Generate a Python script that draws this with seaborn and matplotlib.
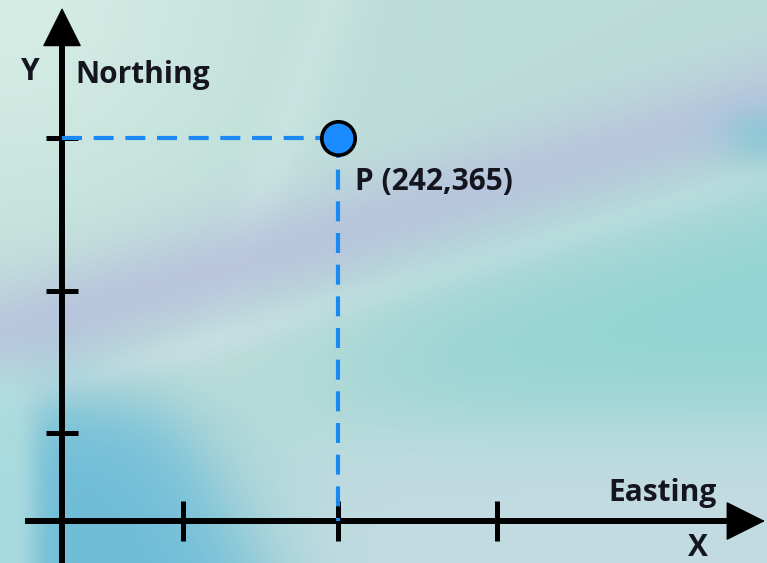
import numpy as np
import pandas as pd
import matplotlib.pyplot as plt
import matplotlib.colors as mcolors
import seaborn as sns

# Chart content
point_name = "P"
point_x = [242]
point_y = [365]
x_ticks = [106, 242, 381]
y_ticks = [84, 219, 365]
x_letter = "X"
y_letter = "Y"
x_title = "Easting"
y_title = "Northing"

df = pd.DataFrame({"easting": point_x, "northing": point_y})

sns.set_theme(style="white")
plt.rcParams['font.family'] = ['Open Sans', 'DejaVu Sans']

x_lim = (-54.4, 618.2)
y_lim = (-40.0, 496.5)

fig = plt.figure(figsize=(7.67, 5.63), dpi=100)
ax = fig.add_axes([0, 0, 1, 1])

# soft teal/lavender background, built in pixel space
W, H = 767, 563
gx, gy = np.meshgrid(np.linspace(0, W, 200), np.linspace(0, H, 150))


def blend(img, color, w):
    c = np.array(mcolors.to_rgb(color))
    w = np.clip(w, 0, 1)[..., None]
    return img * (1 - w) + c * w


def sig(t):
    return 1 / (1 + np.exp(-t))


img = np.ones(gx.shape + (3,)) * np.array(mcolors.to_rgb("#bcdcd8"))
img = blend(img, "#d4ece4", np.exp(-((gx / 260) ** 2 + (gy / 230) ** 2)))
img = blend(img, "#d0e8e4", 0.5 * np.exp(-((gx - 330 + 0.35 * gy) / 25) ** 2) * sig((300 - gy) / 30))
d = gy - (335 - 0.30 * gx)
img = blend(img, "#b8c2de", 0.85 * np.exp(-(d / 52) ** 2))
img = blend(img, "#cfe2e4", 0.6 * np.exp(-((d - 72) / 18) ** 2))
img = blend(img, "#92d4d4", sig((d - 95) / 30) * sig((gx - 330) / 60) * sig((440 - gy) / 35))
img = blend(img, "#c2dce2", sig((gy - 440) / 25) * sig((gx - 280) / 35))
edge = 255 - gx - 0.5 * (H - gy)
img = blend(img, "#6fbdd8", sig((gy - 400) / 22) * sig(edge / 30) * sig((gx - 25) / 10))
img = blend(img, "#a8dce0", sig((gy - 380) / 20) * sig((25 - gx) / 8))
img = blend(img, "#78c4d2", 0.6 * np.exp(-(((gx - 767) / 45) ** 2 + ((gy - 135) / 30) ** 2)))

ax.imshow(img, extent=(x_lim[0], x_lim[1], y_lim[0], y_lim[1]), origin="upper",
          aspect="auto", interpolation="bicubic", zorder=0)

# projection lines from the point to the axes
blue = "#1a8af2"
ax.plot([0, point_x[0]], [point_y[0], point_y[0]], color=blue, lw=3,
        dashes=(4.8, 2.8), zorder=3)
ax.plot([point_x[0], point_x[0]], [point_y[0], 0], color=blue, lw=3,
        dashes=(4.8, 2.8), zorder=3)

sns.scatterplot(data=df, x="easting", y="northing", ax=ax, s=580, color="#1a8cff",
                edgecolor="black", linewidth=2.6, zorder=4)

# axes drawn through the origin
ax.set_xlim(x_lim)
ax.set_ylim(y_lim)
ax.spines[['top', 'right']].set_visible(False)
for side in ['left', 'bottom']:
    ax.spines[side].set_position(('data', 0))
    ax.spines[side].set_linewidth(4.3)
    ax.spines[side].set_color("black")
ax.spines['left'].set_bounds(y_lim[0], 455)
ax.spines['bottom'].set_bounds(-30, 585)
ax.set_xticks(x_ticks)
ax.set_yticks(y_ticks)
ax.tick_params(axis='x', bottom=True, direction='inout', length=29, width=3.6,
               color='black', labelbottom=False)
ax.tick_params(axis='y', left=True, direction='inout', length=23, width=3.6,
               color='black', labelleft=False)
ax.set_xlabel("")
ax.set_ylabel("")

head = dict(arrowstyle="-|>,head_length=2.6,head_width=1.3", mutation_scale=10,
            color="black", lw=1, shrinkA=0, shrinkB=0)
ax.annotate("", xy=(0, 489), xytext=(0, 440), arrowprops=head)
ax.annotate("", xy=(616.4, 0), xytext=(570, 0), arrowprops=head)

txt = dict(fontsize=21.5, fontweight="bold", color="#15151f")
ax.text(-28, 428, y_letter, ha="center", va="center", **txt)
ax.text(11.4, 425, y_title, ha="left", va="center", **txt)
ax.text(574, 26.7, x_title, ha="right", va="center", **txt)
ax.text(557.6, -25.7, x_letter, ha="center", va="center", **txt)
ax.annotate(f"{point_name} ({point_x[0]},{point_y[0]})", xy=(point_x[0], point_y[0]),
            xytext=(12, -32), textcoords="offset points", ha="left", va="center",
            **txt)

fig.savefig("out.png", dpi=100)
